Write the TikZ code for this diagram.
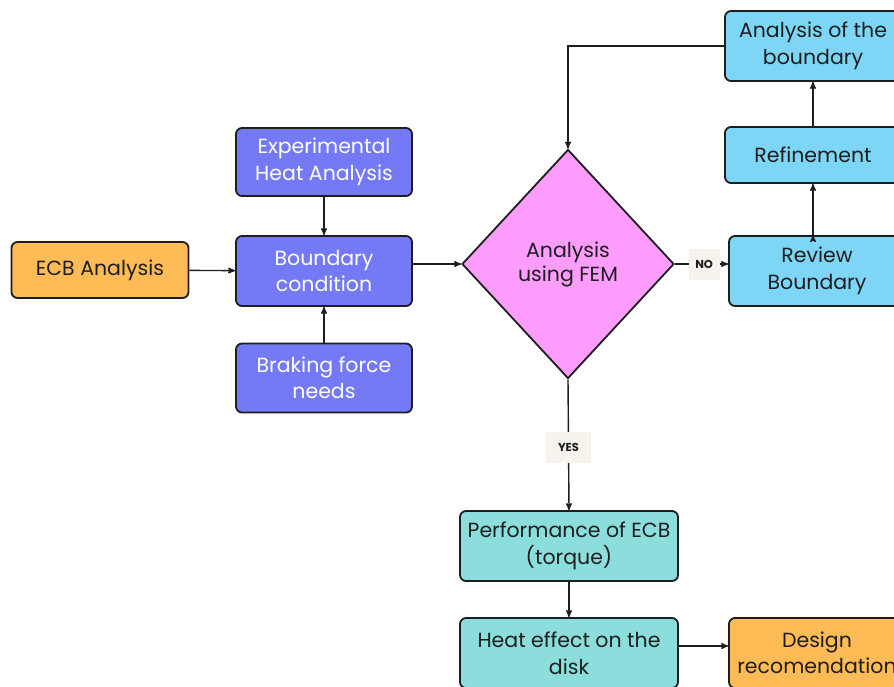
\documentclass[tikz,border=0pt]{standalone}
\usepackage{fontspec}
\setmainfont{Poppins}
\usetikzlibrary{arrows,positioning,shapes.geometric}
\definecolor{bluebox}{HTML}{7479F5}
\definecolor{skybox}{HTML}{7ED6F6}
\definecolor{tealbox}{HTML}{8BDEDC}
\definecolor{orangebox}{HTML}{FFBB55}
\definecolor{pinkbox}{HTML}{FF9CFF}
\definecolor{tagbg}{HTML}{F6F2EC}
\definecolor{edgec}{HTML}{1E1E1E}
\tikzset{>=stealth',auto}
\tikzset{box/.style={draw=edgec,line width=1.8pt,rounded corners=6pt,align=center,
        font=\fontsize{20.5}{26.5}\selectfont,text=edgec,inner sep=2pt}}
\tikzset{tag/.style={fill=tagbg,font=\fontsize{11.5}{13}\selectfont\bfseries,text=edgec,
        minimum width=31pt,minimum height=31pt,inner sep=0pt}}

\begin{document}
\begin{tikzpicture}[x=1pt,y=-1pt,line width=1.4pt]
    \useasboundingbox (0,0) rectangle (894,686);
    \clip (0,0) rectangle (894,686);
    \fill[white] (0,0) rectangle (894,686);
    % left column
    \node[box,fill=orangebox,minimum width=177pt,minimum height=56pt] (ecb) at (100,270) {ECB Analysis};
    \node[box,fill=bluebox,text=white,minimum width=176pt,minimum height=70pt] (bc) at (324,271) {Boundary\\condition};
    \node[box,fill=bluebox,text=white,minimum width=176pt,minimum height=68pt] (exp) at (324,162) {Experimental\\Heat Analysis};
    \node[box,fill=bluebox,text=white,minimum width=176pt,minimum height=69pt] (brake) at (324,378) {Braking force\\needs};
    % decision
    \node[diamond,draw=edgec,line width=1.8pt,fill=pinkbox,aspect=0.93,minimum width=212pt,
          minimum height=229pt,inner sep=0pt,align=center,font=\fontsize{20.5}{24}\selectfont,
          text=edgec] (fem) at (568,264) {Analysis\\using FEM};
    % right column
    \node[box,fill=skybox,minimum width=176pt,minimum height=70pt] (review) at (817,271) {Review\\Boundary};
    \node[box,fill=skybox,minimum width=176pt,minimum height=56pt] (refine) at (813,155) {Refinement};
    \node[box,fill=skybox,minimum width=176pt,minimum height=70pt] (anb) at (813,46) {Analysis of the\\boundary};
    % bottom
    \node[box,fill=tealbox,minimum width=218pt,minimum height=70pt] (perf) at (569,546) {Performance of ECB\\(torque)};
    \node[box,fill=tealbox,minimum width=218pt,minimum height=70pt] (disk) at (569,653) {Heat effect on the\\disk};
    \node[box,fill=orangebox,minimum width=176pt,minimum height=70pt] (design) at (817,653) {Design\\recomendation};
    \path[->,draw=edgec]
        (ecb) edge (bc)
        (exp) edge (bc)
        (brake) edge (bc)
        (bc.east |- fem.west) edge (fem.west)
        (review.north -| refine) edge (refine)
        (refine) edge (anb)
        (perf) edge (disk)
        ;
    \draw[->,edgec] ([yshift=7pt]disk.east) -- ([yshift=7pt]design.west);
    \draw[->,edgec] (anb.west) -| (fem.north);
    \draw[->,edgec] (fem.east) -- node[tag,swap,pos=0.55,anchor=center] {NO} (fem.east -| review.west);
    \draw[->,edgec] (fem.south) -- node[tag,anchor=center,pos=0.52,minimum width=45pt] {YES} (perf.north);
\end{tikzpicture}
\end{document}
